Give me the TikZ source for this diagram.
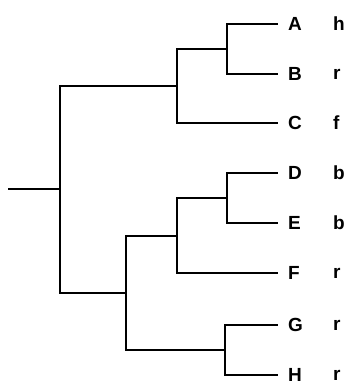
\documentclass[tikz,border=0pt]{standalone}
\usepackage{fontspec}
\setmainfont{Liberation Sans}
\usetikzlibrary{positioning}

\begin{document}
\begin{tikzpicture}[
    x=1pt, y=-1pt,
    branch/.style={draw=black, line width=2.4pt, line cap=rect},
    leaf/.style={anchor=west, inner xsep=11pt, inner ysep=0pt, font=\fontsize{19}{21}\selectfont\bfseries},
    trait/.style={anchor=west, inner sep=0pt, font=\fontsize{19}{21}\selectfont\bfseries},
]
\useasboundingbox (0,0) rectangle (352,389);

% Leaves
\node[leaf] (A) at (277,24) {A};
\node[leaf] (B) at (277,74) {B};
\node[leaf] (C) at (277,123) {C};
\node[leaf] (D) at (277,173) {D};
\node[leaf] (E) at (277,223) {E};
\node[leaf] (F) at (277,273) {F};
\node[leaf] (G) at (277,325) {G};
\node[leaf] (H) at (277,375) {H};

% Trait column
\node[trait] (tA) at (333,24) {h};
\node[trait] (tB) at (333,74) {r};
\node[trait] (tC) at (333,123) {f};
\node[trait] (tD) at (333,173) {b};
\node[trait] (tE) at (333,223) {b};
\node[trait] (tF) at (333,273) {r};
\node[trait] (tG) at (333,325) {r};
\node[trait] (tH) at (333,375) {r};

% Internal nodes
\coordinate (ab) at (227,49);
\coordinate (abc) at (177,86);
\coordinate (de) at (227,198);
\coordinate (def) at (177,236);
\coordinate (gh) at (225,350);
\coordinate (dh) at (126,293);
\coordinate (root) at (60,189);
\coordinate (stem) at (9,189);

% Branches
\draw[branch] (A.west) -| (ab) |- (B.west);
\draw[branch] (ab) -| (abc) |- (C.west);
\draw[branch] (D.west) -| (de) |- (E.west);
\draw[branch] (de) -| (def) |- (F.west);
\draw[branch] (G.west) -| (gh) |- (H.west);
\draw[branch] (def) -| (dh) |- (gh);
\draw[branch] (abc) -| (root) |- (dh);
\draw[branch] (stem) -- (root);

\end{tikzpicture}
\end{document}
